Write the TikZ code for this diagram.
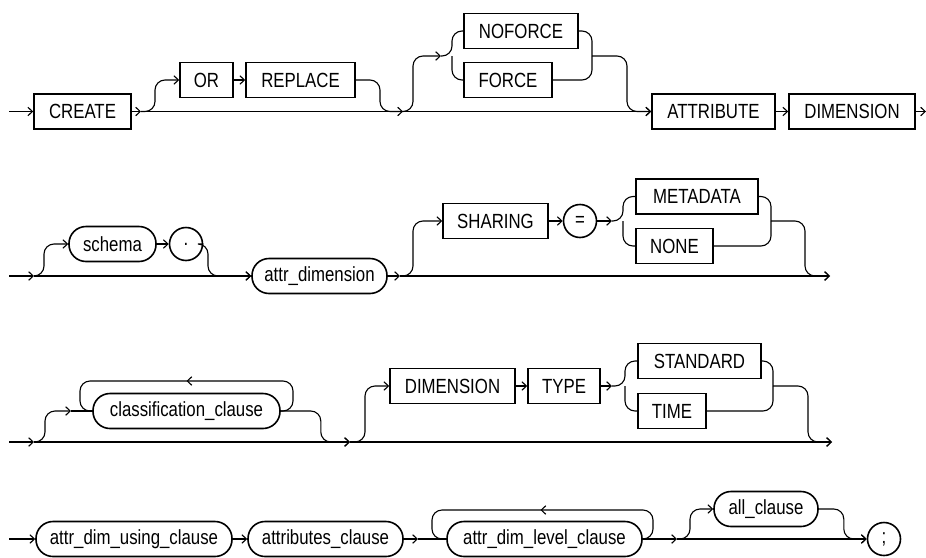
\documentclass[tikz,border=0pt]{standalone}
\usepackage{fontspec}
\setmainfont{Liberation Sans}[FakeStretch=0.82]
\usetikzlibrary{arrows.meta,decorations.markings}
\begin{document}
\begin{tikzpicture}[x=1pt,y=-1pt,
  kw/.style={draw, line width=1.6pt, minimum height=35pt, inner sep=0pt, font=\fontsize{20.5}{24}\selectfont},
  ov/.style={kw, rounded corners=17pt},
  ci/.style={draw, circle, line width=1.6pt, minimum size=33pt, inner sep=0pt, font=\fontsize{20.5}{24}\selectfont},
  ln/.style={line width=1.1pt, rounded corners=10pt},
  arr/.style={-{Straight Barb[length=4.5pt,width=8.5pt]}},
  loopmark/.style={postaction={decorate}, decoration={markings, mark=at position 0.5 with {\arrow{Straight Barb[length=4.5pt,width=8.5pt]}}}}
]
\useasboundingbox (0,0) rectangle (926,557);

% ---------- Row 1 ----------
\coordinate (s1) at (9,111.5);
\node[kw,minimum width=97] (create) at (82.5,111.5) {CREATE};
\node[kw,minimum width=53] (or) at (206.5,80) {OR};
\node[kw,minimum width=109] (replace) at (300.5,80) {REPLACE};
\node[kw,minimum width=114] (noforce) at (521,31) {NOFORCE};
\node[kw,minimum width=88] (force) at (508,80) {FORCE};
\node[kw,minimum width=123] (attribute) at (713.5,111.5) {ATTRIBUTE};
\node[kw,minimum width=126] (dimension) at (852,111.5) {DIMENSION};
\coordinate (j1) at (141,111.5);
\coordinate (j2) at (403,111.5);
\coordinate (b0) at (441,56);
\coordinate (b1) at (452,56);
\coordinate (m1) at (592,56);
\coordinate (e1) at (926,111.5);

\draw[ln,arr] (s1) -- (create);
\draw[ln,arr] (create) -- (j1);
\draw[ln,arr] (j1) -- (j2);
\draw[ln,arr] (j2) -- (attribute);
\draw[ln,arr] (j1) -- ++(14,0) |- (or.west);
\draw[ln,arr] (or) -- (replace);
\draw[ln] (replace.east) -| ([xshift=-23pt]j2) -- (j2);
\draw[ln,arr] (j2) -- ++(10,0) |- (b0);
\draw[ln] (b0) -- (b1) |- (noforce.west);
\draw[ln] (b1) |- (force.west);
\draw[ln] (noforce.east) -| (m1);
\draw[ln] (force.east) -| (m1);
\draw[ln,arr] (m1) -- ++(35,0) |- (attribute.west);
\draw[ln,arr] (attribute) -- (dimension);
\draw[ln,arr] (dimension) -- (e1);

% ---------- Row 2 ----------
\coordinate (s2) at (9,276);
\coordinate (k1) at (34,276);
\node[ov,minimum width=87] (schema) at (112.5,244) {schema};
\node[ci] (dot) at (186,244) {.};
\node[ov,minimum width=135] (attrdim) at (319.5,276) {attr\_dimension};
\coordinate (k2) at (400,276);
\node[kw,minimum width=105] (sharing) at (495.5,221) {SHARING};
\node[ci] (eq) at (580,221) {=};
\coordinate (k3) at (612,221);
\coordinate (k4) at (623,221);
\node[kw,minimum width=122] (metadata) at (697,196.5) {METADATA};
\node[kw,minimum width=77] (none) at (674.5,246) {NONE};
\coordinate (k5) at (771,221);
\coordinate (k6) at (830,276);

\draw[ln,arr] (s2) -- (k1);
\draw[ln,arr] (k1) -- (attrdim);
\draw[ln,arr] (k1) -- ++(10,0) |- (schema.west);
\draw[ln,arr] (schema) -- (dot);
\draw[ln,arr] (dot) -- ++(22,0) |- (attrdim.west);
\draw[ln,arr] (attrdim) -- (k2);
\draw[ln,arr] (k2) -- (k6);
\draw[ln,arr] (k2) -- ++(13,0) |- (sharing.west);
\draw[ln,arr] (sharing) -- (eq);
\draw[ln,arr] (eq) -- (k3);
\draw[ln] (k3) -- (k4) |- (metadata.west);
\draw[ln] (k4) |- (none.west);
\draw[ln] (metadata.east) -| (k5);
\draw[ln] (none.east) -| (k5);
\draw[ln,arr] (k5) -- ++(34,0) |- (k6);

% ---------- Row 3 ----------
\coordinate (s3) at (9,442);
\coordinate (c1) at (34,442);
\coordinate (c2) at (71,411);
\node[ov,minimum width=187] (class) at (186.5,411) {classification\_clause};
\coordinate (c4t) at (293,381);
\coordinate (c3t) at (80,381);
\coordinate (c5) at (350,442);
\node[kw,minimum width=125] (dim3) at (452.5,386) {DIMENSION};
\node[kw,minimum width=72] (type) at (564,386) {TYPE};
\coordinate (c6) at (612,386);
\coordinate (c7) at (625,386);
\node[kw,minimum width=123] (standard) at (699.5,361) {STANDARD};
\node[kw,minimum width=68] (time) at (672,411) {TIME};
\coordinate (c8) at (773,386);
\coordinate (c9) at (832,442);

\draw[ln,arr] (s3) -- (c1);
\draw[ln,arr] (c1) -- (c5);
\draw[ln,arr] (c1) -- ++(11,0) |- (c2);
\draw[ln] (c2) -- (class);
\draw[ln,loopmark] (class.east) -| (c4t) -- (c3t) |- (class.west);
\draw[ln,arr] (class.east) -- ++(40,0) |- (c5);
\draw[ln,arr] (c5) -- (c9);
\draw[ln,arr] (c5) -- ++(15,0) |- (dim3.west);
\draw[ln,arr] (dim3) -- (type);
\draw[ln,arr] (type) -- (c6);
\draw[ln] (c6) -- (c7) |- (standard.west);
\draw[ln] (c7) |- (time.west);
\draw[ln] (standard.east) -| (c8);
\draw[ln] (time.east) -| (c8);
\draw[ln,arr] (c8) -- ++(35,0) |- (c9);

% ---------- Row 4 ----------
\coordinate (s4) at (9,539);
\node[ov,minimum width=196] (using) at (134,539) {attr\_dim\_using\_clause};
\node[ov,minimum width=155] (attrs) at (325.5,539) {attributes\_clause};
\coordinate (d1) at (418,539);
\node[ov,minimum width=195] (level) at (544.5,539) {attr\_dim\_level\_clause};
\coordinate (l1) at (653,510);
\coordinate (l2) at (432,510);
\coordinate (d2) at (677,539);
\node[ov,minimum width=104] (all) at (766,509) {all\_clause};
\node[ci] (semi) at (884,539) {;};

\draw[ln,arr] (s4) -- (using);
\draw[ln,arr] (using) -- (attrs);
\draw[ln,arr] (attrs) -- (d1);
\draw[ln] (d1) -- (level);
\draw[ln,loopmark] (level.east) -| (l1) -- (l2) |- (level.west);
\draw[ln,arr] (level) -- (d2);
\draw[ln,arr] (d2) -- (semi);
\draw[ln,arr] (d2) -- ++(13,0) |- (all.west);
\draw[ln,arr] (all.east) -- ++(25,0) |- (semi.west);
\end{tikzpicture}
\end{document}
